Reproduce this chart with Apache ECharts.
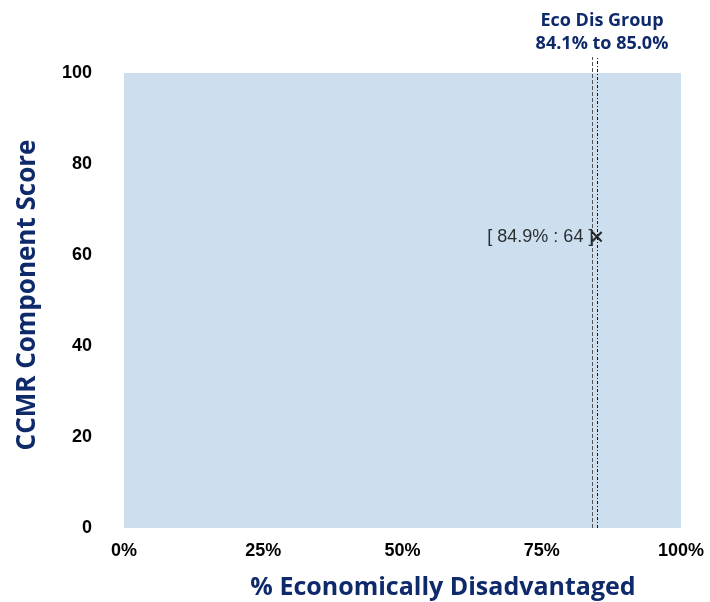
<!DOCTYPE html>
<html><head><meta charset="utf-8">
<script src="https://cdn.jsdelivr.net/npm/echarts@6/dist/echarts.min.js"></script>
<style>html,body{margin:0;padding:0;background:#fff}#c{width:710px;height:602px}</style>
</head><body><div id="c"></div>
<script>
const xTicks = [0, 25, 50, 75, 100];
const yTicks = [0, 20, 40, 60, 80, 100];
const groupRange = [84.1, 85.0];
const point = [84.9, 64];
const groupLabel = ['Eco Dis Group', '84.1% to 85.0%'];
const xTitle = '% Economically Disadvantaged';
const yTitle = 'CCMR Component Score';

const navy = '#0f2a6b';
const lineStyles = [
  { color: '#555', type: [4, 2], width: 1 },
  { color: '#111', type: [3, 2, 1, 2], width: 1 }
];
const chart = echarts.init(document.getElementById('c'));
chart.setOption({
  animation: false,
  grid: { left: 124, right: 29, top: 73, bottom: 74, show: true, backgroundColor: '#cddfee', borderWidth: 0 },
  xAxis: {
    type: 'value', min: xTicks[0], max: xTicks[xTicks.length - 1], interval: 25,
    axisLine: { show: false }, axisTick: { show: false }, splitLine: { show: false },
    axisLabel: { formatter: '{value}%', color: '#000', fontWeight: 'bold', fontSize: 18, margin: 14, fontFamily: 'Liberation Sans' }
  },
  yAxis: {
    type: 'value', min: yTicks[0], max: yTicks[yTicks.length - 1], interval: 20,
    axisLine: { show: false }, axisTick: { show: false }, splitLine: { show: false },
    axisLabel: { color: '#000', fontWeight: 'bold', fontSize: 18, margin: 32, fontFamily: 'Liberation Sans' }
  },
  graphic: [
    { type: 'text', style: { text: xTitle, x: 443, y: 588, align: 'center', verticalAlign: 'middle', fill: navy, font: 'bold 25px "Open Sans"' } },
    { type: 'text', x: 28, y: 295, rotation: Math.PI / 2, style: { text: yTitle, align: 'center', verticalAlign: 'middle', fill: navy, font: 'bold 26px "Open Sans"' } },
    { type: 'text', style: { text: groupLabel.join('\n'), x: 602, y: 32, align: 'center', verticalAlign: 'middle', fill: navy, font: 'bold 18px "Open Sans"', lineHeight: 23 } }
  ],
  series: [{
    type: 'scatter',
    data: [point],
    symbol: 'path://M0,1.4L1.4,0L5,3.6L8.6,0L10,1.4L6.4,5L10,8.6L8.6,10L5,6.4L1.4,10L0,8.6L3.6,5Z',
    symbolSize: 11,
    itemStyle: { color: '#000' },
    z: 5,
    label: { show: true, position: 'left', distance: -2, formatter: p => '[ ' + p.value[0] + '% : ' + p.value[1] + ' ]', color: '#000', fontSize: 18, fontFamily: 'Liberation Sans' },
    markLine: {
      silent: true, symbol: 'none', label: { show: false },
      data: groupRange.map((v, i) => [{ coord: [v, 0], lineStyle: lineStyles[i] }, { coord: [v, 100], y: 57 }])
    }
  }]
});
</script></body></html>
